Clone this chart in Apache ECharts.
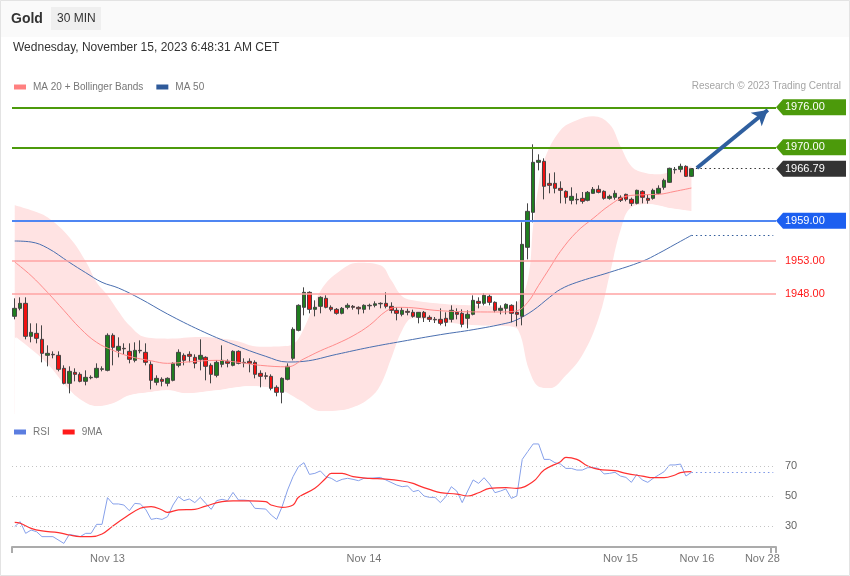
<!DOCTYPE html>
<html><head><meta charset="utf-8">
<script src="https://cdn.jsdelivr.net/npm/echarts/dist/echarts.min.js"></script>
<style>html,body{margin:0;padding:0;background:#fff}#c{width:850px;height:576px}</style>
</head><body><div id="c"></div>
<script>
const FONT = 'Liberation Sans, Arial, sans-serif';
// ---- data ----
const opens = [1944.65,1945.85,1946.6,1941.65,1942.1,1941.2,1938.8,1938.95,1938.8,1936.85,
1934.6,1936.25,1935.95,1934.9,1935.43,1935.5,1936.7,1936.55,1941.8,1939.55,
1939.85,1939.4,1938.05,1939.55,1939.25,1937.45,1934.75,1935.2,1934.6,1935.05,
1937.3,1938.8,1938.95,1938.5,1938.2,1938.5,1937.3,1935.8,1937.45,1937.9,
1937.3,1939.4,1937.75,1937.9,1937.75,1936.1,1935.73,1935.65,1934.0,1933.25,
1935.2,1938.35,1942.55,1946.0,1948.25,1945.7,1946.15,1947.35,1946.0,1945.7,
1945.1,1946.0,1946.15,1946.0,1945.7,1946.3,1946.3,1946.53,1946.6,1946.15,
1945.55,1944.95,1945.4,1945.25,1944.5,1945.25,1944.5,1944.2,1944.2,1944.35,
1944.2,1945.25,1945.1,1944.35,1944.95,1946.9,1946.6,1947.65,1946.75,1945.55,
1945.85,1946.3,1945.25,1944.65,1955.0,1960.25,1967.75,1967.9,1964.6,1964.6,
1963.85,1963.4,1962.05,1962.2,1962.35,1962.05,1963.1,1963.7,1963.4,1962.35,
1962.5,1962.5,1962.95,1962.2,1961.6,1963.4,1962.35,1962.35,1963.1,1964.0,
1964.75,1966.63,1966.7,1967.15,1965.65];
const closes = [1945.85,1946.6,1941.65,1942.25,1941.35,1939.1,1939.1,1938.88,1936.7,1934.6,
1936.4,1935.95,1934.9,1935.5,1935.5,1936.85,1936.78,1941.8,1940.0,1940.15,
1939.78,1938.2,1939.55,1939.48,1937.75,1935.05,1935.35,1934.9,1935.35,1937.6,
1939.25,1938.05,1938.65,1937.6,1938.8,1937.15,1935.95,1937.75,1938.05,1937.6,
1939.4,1937.6,1937.68,1937.6,1935.95,1935.65,1935.65,1933.85,1933.25,1935.35,
1937.15,1942.7,1946.3,1948.25,1945.7,1946.0,1947.5,1946.0,1945.7,1945.1,
1945.85,1946.3,1946.0,1945.78,1946.3,1946.23,1946.53,1946.6,1946.15,1945.55,
1945.1,1945.55,1945.25,1944.65,1945.25,1944.5,1944.2,1944.13,1943.6,1943.75,
1945.55,1944.95,1943.45,1944.95,1947.05,1946.6,1947.8,1946.75,1945.55,1945.85,
1946.45,1945.1,1944.95,1955.45,1960.4,1967.75,1968.05,1964.15,1964.3,1963.85,
1963.55,1962.5,1962.65,1962.13,1961.9,1963.25,1963.7,1963.25,1962.35,1962.65,
1963.1,1962.05,1962.2,1961.6,1963.55,1962.5,1962.05,1963.55,1963.85,1965.05,
1966.85,1966.7,1967.15,1965.65,1966.79];
const lows = [1944.2,1945.55,1941.2,1940.75,1940.6,1937.75,1937.15,1938.35,1936.4,1934.45,
1933.1,1934.9,1934.75,1934.3,1935.2,1935.35,1936.4,1936.4,1937.3,1938.5,
1938.95,1937.6,1937.75,1939.1,1937.3,1933.7,1934.3,1934.15,1934.15,1934.9,
1937.0,1937.3,1937.75,1936.85,1936.55,1935.05,1934.6,1935.5,1937.0,1937.0,
1937.15,1937.45,1937.0,1936.25,1935.35,1934.0,1935.2,1933.55,1932.65,1931.6,
1935.05,1938.05,1942.4,1944.8,1945.1,1944.65,1945.1,1945.85,1945.4,1944.9,
1944.95,1945.7,1945.65,1944.95,1945.1,1945.65,1946.0,1945.85,1945.85,1945.1,
1944.05,1944.65,1944.8,1944.45,1943.6,1943.8,1943.8,1943.65,1943.3,1943.15,
1943.75,1944.2,1943.0,1942.85,1944.8,1945.85,1946.3,1946.3,1945.25,1944.95,
1944.95,1943.75,1943.15,1943.3,1953.2,1958.75,1966.55,1962.2,1963.1,1963.1,
1961.6,1961.55,1961.45,1961.45,1961.55,1961.9,1963.05,1963.1,1962.15,1962.15,
1962.15,1961.8,1961.9,1961.2,1961.45,1961.6,1961.55,1962.15,1962.95,1963.65,
1964.65,1966.05,1966.25,1965.55,1965.55];
const highs = [1947.35,1947.5,1947.5,1943.6,1943.6,1943.3,1940.3,1939.4,1939.4,1937.3,
1937.15,1936.85,1936.25,1936.55,1935.8,1937.6,1937.15,1942.1,1942.1,1941.5,
1940.6,1940.6,1940.75,1941.05,1940.6,1937.9,1935.8,1935.5,1935.5,1937.75,
1939.7,1939.1,1939.4,1938.95,1941.2,1938.65,1937.6,1938.05,1940.3,1938.2,
1939.55,1939.55,1938.35,1938.35,1938.05,1936.55,1936.25,1935.95,1934.3,1935.5,
1937.6,1943.0,1946.45,1949.0,1948.4,1947.05,1947.65,1947.8,1946.3,1945.9,
1946.05,1946.6,1946.35,1946.15,1946.45,1946.55,1946.9,1946.75,1948.25,1946.75,
1946.0,1946.0,1945.8,1945.65,1945.3,1945.45,1944.8,1944.55,1945.85,1945.25,
1946.3,1945.85,1945.7,1945.55,1947.8,1947.5,1948.1,1947.95,1946.9,1946.3,
1946.6,1946.45,1946.9,1958.75,1961.6,1970.45,1968.95,1968.35,1966.1,1966.25,
1964.9,1963.55,1964.0,1963.1,1963.3,1963.45,1964.05,1964.3,1963.55,1962.9,
1963.55,1962.8,1963.05,1962.45,1963.65,1963.55,1962.9,1963.8,1964.3,1965.3,
1966.95,1967.05,1967.55,1967.3,1966.8];
// [slot index, value] readings
const ma20 = [[0,1952.8],[3,1950.75],[6,1948.25],[9,1945.55],[12,1942.85],[15,1940.75],[18,1939.55],[21,1938.65],[25,1937.98],[28,1937.6],[32,1937.83],[37,1938.05],[41,1937.75],[45,1937.3],[50,1937.08],[53,1938.28],[56,1939.48],[59,1940.53],[62,1941.73],[65,1943.3],[68,1945.4],[70,1946.0],[73,1945.93],[77,1945.55],[83,1945.33],[89,1945.3],[92,1945.48],[94,1946.75],[96,1949.3],[98,1951.85],[100,1954.4],[103,1957.33],[106,1959.35],[109,1961.3],[112,1962.65],[115,1962.88],[118,1962.95],[121,1963.4],[124,1963.9]];
const ma50 = [[0,1955.95],[3,1955.8],[6,1954.9],[10,1952.75],[13,1951.2],[16,1949.75],[19,1948.9],[23,1947.3],[28,1945.0],[34,1942.55],[40,1940.45],[46,1938.65],[50,1937.8],[53,1937.9],[59,1938.95],[65,1940.0],[71,1940.9],[78,1941.9],[84,1942.65],[90,1943.6],[92,1944.13],[95,1945.55],[98,1947.5],[100,1948.7],[103,1949.75],[109,1951.25],[115,1952.9],[118,1954.1],[121,1955.45],[124,1956.8]];
const bbUpper = [[0,1961.3],[3,1960.55],[6,1959.5],[10,1956.5],[13,1952.9],[15,1949.75],[17,1947.8],[19,1945.4],[21,1943.3],[24,1941.5],[28,1941.3],[34,1941.55],[40,1941.05],[45,1940.08],[49,1940.15],[51,1940.45],[53,1942.85],[56,1948.4],[59,1951.1],[63,1952.68],[67,1952.3],[69,1950.05],[71,1947.65],[73,1947.05],[78,1946.55],[84,1946.3],[90,1946.08],[92,1946.6],[94,1950.05],[95,1958.3],[96,1964.3],[97,1968.05],[100,1972.55],[103,1974.05],[106,1974.65],[109,1973.45],[111,1970.15],[113,1967.15],[115,1966.25],[118,1965.95],[121,1966.55],[124,1967.15]];
const bbLower = [[0,1941.5],[3,1939.55],[6,1937.3],[9,1934.3],[12,1932.05],[15,1931.15],[18,1931.6],[21,1932.8],[25,1933.3],[28,1933.55],[31,1933.1],[37,1933.55],[43,1934.15],[46,1934.0],[49,1933.4],[52,1932.05],[56,1930.4],[59,1930.48],[62,1931.0],[65,1932.35],[67,1934.3],[69,1938.35],[71,1942.55],[73,1944.35],[77,1943.9],[84,1943.3],[90,1943.15],[92,1942.55],[94,1936.55],[96,1934.0],[98,1933.85],[101,1935.8],[104,1938.8],[107,1944.35],[109,1950.8],[111,1957.55],[113,1961.0],[116,1961.45],[120,1960.85],[124,1960.4]];
const rsi = [[0,29.6],[1,32.9],[2,25.1],[3,27.3],[4,26.2],[5,22.9],[7,22.9],[9,18.4],[10,24.4],[12,22.9],[13,25.1],[14,25.1],[15,31.1],[16,31.1],[17,48.9],[18,44.7],[19,44.7],[20,44.0],[21,40.2],[22,45.1],[23,44.7],[24,41.1],[25,34.4],[26,35.1],[27,34.4],[28,36.2],[29,44.0],[30,49.6],[31,46.9],[32,48.0],[33,45.6],[34,49.1],[35,45.1],[36,41.1],[37,46.9],[38,47.8],[39,46.9],[40,52.4],[41,47.3],[42,47.3],[43,46.9],[44,41.8],[46,41.3],[47,37.3],[48,34.4],[49,42.9],[50,54.0],[51,62.9],[52,69.6],[53,72.2],[54,64.4],[55,65.1],[56,66.7],[57,62.9],[58,61.8],[59,59.6],[60,61.1],[61,61.8],[62,61.1],[63,60.2],[64,61.8],[65,61.8],[67,62.4],[68,60.7],[70,57.3],[71,56.2],[72,56.7],[73,52.9],[74,53.8],[75,50],[76,49.1],[77,49.1],[78,45.6],[79,49.6],[80,56.2],[81,53.3],[82,45.6],[83,53.3],[84,60.7],[85,58.4],[86,62.2],[87,58.0],[88,52.2],[89,53.3],[90,54.7],[91,48.4],[92,50],[93,74.4],[94,79.6],[95,84.7],[96,84.7],[97,74.4],[98,74.4],[99,72.2],[100,71.3],[101,68.4],[102,68.4],[103,67.3],[104,67.3],[105,68.9],[106,68.9],[107,68.4],[108,64.7],[109,65.1],[110,65.8],[111,63.3],[112,62.4],[113,59.1],[114,64.4],[115,60.7],[116,59.1],[117,61.8],[118,64.0],[119,66.2],[120,70.7],[121,70.7],[122,71.3],[123,63.3],[124,65.8]];
const rsiMA = [[0,32.4],[1,31.8],[3,28.4],[5,26.7],[8,25.6],[10,24.0],[12,22.9],[14,22.9],[16,24.7],[18,30.0],[20,35.1],[23,41.8],[25,42.9],[27,40.7],[28,39.1],[30,40.7],[33,41.1],[35,43.3],[38,46.2],[40,46.7],[43,46.7],[46,46.2],[47,44.0],[49,42.4],[51,44.0],[52,49.1],[55,55.1],[57,61.8],[58,65.1],[60,65.1],[62,62.9],[65,61.8],[68,61.3],[71,60.0],[73,58.4],[74,56.9],[76,54.4],[78,52.2],[81,51.3],[83,50],[85,52.2],[87,55.1],[90,55.6],[92,55.1],[95,59.6],[97,67.3],[100,72.9],[101,75.8],[103,74.4],[105,70.0],[107,67.8],[110,66.9],[112,65.1],[115,63.3],[117,62.2],[119,62.2],[121,64.0],[122,65.6],[124,66.2]];
const greenLevels = [1976, 1970];
const blueLevels = [1959];
const redLevels = [1953, 1948];
const lastPrice = 1966.79;
const targetPrice = 1976;
const rsiLevels = [70, 50, 30];
const xTickIdx = [17, 64, 111, 125, 137];
const xTickText = ['Nov 13', 'Nov 14', 'Nov 15', 'Nov 16', 'Nov 28'];
const SLOTS = 140;
// ---- build ----
const categories = Array.from({length: SLOTS}, (_, i) => String(i));
const candles = opens.map((o, i) => [o, closes[i], lows[i], highs[i]]);
const lastIdx = candles.length - 1;
const lastMA50 = ma50[ma50.length - 1][1];
const lastRSI = rsi[rsi.length - 1][1];

const chart = echarts.init(document.getElementById('c'), null, {renderer: 'canvas'});

const dot = [1.5, 3];
const levelLines = [];
greenLevels.forEach(v => levelLines.push({yAxis: v, lineStyle: {color: '#4c9a0b', width: 2, type: 'solid'}, label: {show: false}}));
blueLevels.forEach(v => levelLines.push({yAxis: v, lineStyle: {color: '#4f86f2', width: 2, type: 'solid'}, label: {show: false}}));
redLevels.forEach(v => levelLines.push({yAxis: v, lineStyle: {color: '#ffa3a3', width: 1.5, type: 'solid'},
  label: {show: true, position: 'end', distance: 9, formatter: v.toFixed(2), color: '#ff1a1a', fontSize: 11, fontFamily: FONT}}));
levelLines.push([{coord: [String(lastIdx), lastPrice], lineStyle: {color: '#333', width: 1, type: dot}}, {coord: [String(SLOTS - 1), lastPrice]}]);
levelLines.push([{coord: [String(lastIdx), lastMA50], lineStyle: {color: '#2f5a9a', width: 1, type: dot}}, {coord: [String(SLOTS - 1), lastMA50]}]);
levelLines.push([{coord: [String(lastIdx + 1), lastPrice + 0.1], symbol: 'none', lineStyle: {color: '#2f5f9f', width: 4, type: 'solid'}},
                 {coord: [String(SLOTS - 2), targetPrice - 0.4], symbol: 'arrow', symbolSize: [13, 15]}]);

const rsiLines = rsiLevels.map(v => ({yAxis: v, lineStyle: {color: '#c4c4c4', width: 1, type: [1, 3]},
  label: {show: true, position: 'end', distance: 9, formatter: String(v), color: '#666', fontSize: 11, fontFamily: FONT}}));
rsiLines.push([{coord: [String(lastIdx), lastRSI], lineStyle: {color: '#7a95e6', width: 1, type: [1.5, 3]}, label: {show: false}}, {coord: [String(SLOTS - 1), lastRSI]}]);

const option = {
  animation: false,
  textStyle: {fontFamily: FONT},
  grid: [
    {left: 12, width: 764, top: 94, height: 320},
    {left: 12, width: 764, top: 436, height: 111}
  ],
  legend: [
    {data: ['MA 20 + Bollinger Bands', 'MA 50'], left: 14, top: 82, padding: 0, icon: 'rect', itemWidth: 12, itemHeight: 5, itemGap: 13,
     textStyle: {color: '#777', fontSize: 10, fontFamily: FONT, padding: [0, 0, 0, 2]}, selectedMode: false},
    {data: ['RSI', '9MA'], left: 14, top: 427, padding: 0, icon: 'rect', itemWidth: 12, itemHeight: 5, itemGap: 13,
     textStyle: {color: '#777', fontSize: 10, fontFamily: FONT, padding: [0, 0, 0, 2]}, selectedMode: false}
  ],
  xAxis: [
    {type: 'category', data: categories, gridIndex: 0, boundaryGap: true, show: false},
    {type: 'category', data: categories, gridIndex: 1, boundaryGap: true,
     axisLine: {lineStyle: {color: '#ababab', width: 2}},
     axisTick: {show: true, length: 6, interval: (i) => i === 0 || i === SLOTS - 1, lineStyle: {color: '#ababab', width: 2}},
     axisLabel: {interval: (i) => xTickIdx.includes(i), formatter: (v, i) => { const k = xTickIdx.indexOf(Number(v)); return k >= 0 ? xTickText[k] : ''; },
       color: '#777', fontSize: 11, margin: 6, fontFamily: FONT}}
  ],
  yAxis: [
    {type: 'value', gridIndex: 0, min: 1930, max: 1978, show: false},
    {type: 'value', gridIndex: 1, min: 16, max: 90, show: false}
  ],
  series: [
    {name: 'bbUpper', type: 'line', data: bbUpper, smooth: 0.4, symbol: 'none', silent: true, z: 1,
     lineStyle: {width: 0, opacity: 0}, areaStyle: {color: '#ffe3e3', opacity: 1, origin: 'start'}},
    {name: 'bbLower', type: 'line', data: bbLower, smooth: 0.4, symbol: 'none', silent: true, z: 1,
     lineStyle: {width: 0, opacity: 0},
     areaStyle: {color: '#ffffff', opacity: 1, origin: 'start', shadowColor: '#ffffff', shadowBlur: 0, shadowOffsetX: 1.5}},
    {name: 'MA 50', type: 'line', data: ma50, smooth: 0.4, symbol: 'none', z: 2,
     itemStyle: {color: '#2f5a9a'}, lineStyle: {color: '#4a6fb0', width: 1},
     markLine: {silent: true, symbol: ['none', 'none'], animation: false, data: levelLines, label: {show: false}}},
    {name: 'Gold', type: 'candlestick', data: candles, barWidth: 4, z: 3,
     itemStyle: {color: '#1f7d1f', color0: '#f01010', borderColor: '#454545', borderColor0: '#454545', borderWidth: 1}},
    {name: 'MA 20 + Bollinger Bands', type: 'line', data: ma20, smooth: 0.4, symbol: 'none', z: 4,
     itemStyle: {color: '#ff8080'}, lineStyle: {color: '#ff8c8c', width: 1}},
    {name: 'RSI', type: 'line', xAxisIndex: 1, yAxisIndex: 1, data: rsi, symbol: 'none', z: 3,
     itemStyle: {color: '#5b7de0'}, lineStyle: {color: '#86a0ea', width: 1},
     markLine: {silent: true, symbol: ['none', 'none'], animation: false, data: rsiLines}},
    {name: '9MA', type: 'line', xAxisIndex: 1, yAxisIndex: 1, data: rsiMA, smooth: 0.4, symbol: 'none', z: 4,
     itemStyle: {color: '#ff1a1a'}, lineStyle: {color: '#ff3030', width: 1.2}}
  ]
};
chart.setOption(option);

// ---- header, tags ----
const gfx = [
  {type: 'rect', shape: {x: 0, y: 0, width: 850, height: 37}, style: {fill: '#fafafa'}, z: -10},
  {type: 'rect', shape: {x: 0.5, y: 0.5, width: 849, height: 575}, style: {fill: 'none', stroke: '#e3e3e3', lineWidth: 1}, z: 100},
  {type: 'text', x: 11, y: 19, style: {text: 'Gold', font: 'bold 14px ' + FONT, fill: '#333', textVerticalAlign: 'middle'}},
  {type: 'rect', shape: {x: 51, y: 7, width: 50, height: 23}, style: {fill: '#efefef'}},
  {type: 'text', x: 57, y: 19, style: {text: '30 MIN', font: '12px ' + FONT, fill: '#333', textVerticalAlign: 'middle'}},
  {type: 'text', x: 13, y: 48, style: {text: 'Wednesday, November 15, 2023 6:48:31 AM CET', font: '12px ' + FONT, fill: '#333', textVerticalAlign: 'middle'}},
  {type: 'text', x: 841, y: 86, style: {text: 'Research \u00a9 2023 Trading Central', font: '10px ' + FONT, fill: '#a5a5a5', textAlign: 'right', textVerticalAlign: 'middle'}}
];
function tag(v, color) {
  const y = chart.convertToPixel({yAxisIndex: 0}, v);
  gfx.push({type: 'polygon', shape: {points: [[776, y], [783, y - 8], [846, y - 8], [846, y + 8], [783, y + 8]]}, style: {fill: color}, z: 50});
  gfx.push({type: 'text', x: 785, y: y, style: {text: v.toFixed(2), font: '11px ' + FONT, fill: '#fff', textVerticalAlign: 'middle'}, z: 51});
}
greenLevels.forEach(v => tag(v, '#4c9a0b'));
tag(lastPrice, '#333333');
blueLevels.forEach(v => tag(v, '#1c5ff0'));
chart.setOption({graphic: gfx});
</script></body></html>
